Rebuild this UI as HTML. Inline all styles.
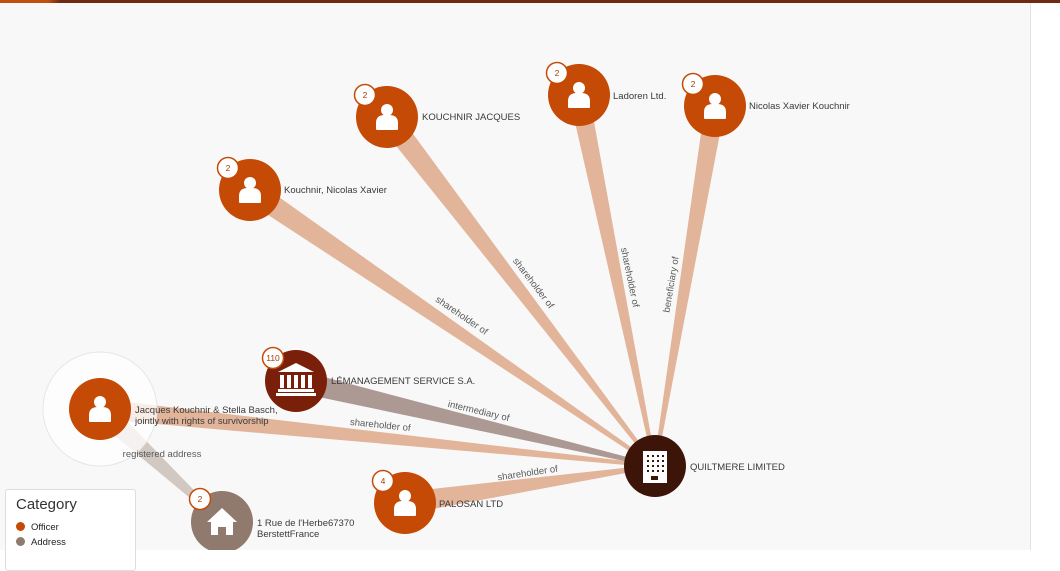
<!DOCTYPE html>
<html><head><meta charset="utf-8">
<style>
html,body{margin:0;padding:0;width:1060px;height:550px;overflow:hidden;background:#fff;font-family:"Liberation Sans",sans-serif;}
#bar{position:absolute;left:0;top:0;width:1060px;height:3px;background:linear-gradient(90deg,#c0500e 0,#c0500e 48px,#6e2a12 60px,#6e2a12 100%);}
#area{position:absolute;left:0;top:3px;width:1030px;height:547px;background:#f8f8f8;border-right:1px solid #e2e2e2;}
svg{position:absolute;left:0;top:0;}
.lbl{font-size:9.5px;fill:#3a3a3a;}
.el{font-size:9.5px;fill:#5a5a5a;}
.bd{font-size:8.5px;fill:#a33c08;}
#legend{position:absolute;left:5px;top:489px;width:129px;height:80px;background:#fff;border:1px solid #ddd;border-radius:3px;}
#legend .t{position:absolute;left:10px;top:6px;font-size:15px;color:#333;}
#legend .r{position:absolute;left:10px;font-size:9.5px;color:#222;}
#legend .d{display:inline-block;width:9px;height:9px;border-radius:50%;margin-right:6px;vertical-align:-1px;}
</style></head><body>
<div id="bar"></div>
<div id="area"></div>
<svg id="s" width="1060" height="550" xmlns="http://www.w3.org/2000/svg">
<g id="edges"></g>
<circle cx="100" cy="409" r="57" fill="#fff" fill-opacity="0.75" stroke="#e6e6e6" stroke-width="1"/>
<g id="nodes"></g>
<text class="el" transform="translate(460,318) rotate(34.3)" text-anchor="middle">shareholder of</text>
<text class="el" transform="translate(531,285) rotate(52.5)" text-anchor="middle">shareholder of</text>
<text class="el" transform="translate(627,278) rotate(78.4)" text-anchor="middle">shareholder of</text>
<text class="el" transform="translate(674,285) rotate(-80.5)" text-anchor="middle">beneficiary of</text>
<text class="el" transform="translate(478,414) rotate(13.3)" text-anchor="middle">intermediary of</text>
<text class="el" transform="translate(380,428) rotate(5.9)" text-anchor="middle">shareholder of</text>
<text class="el" transform="translate(528,476) rotate(-8.4)" text-anchor="middle">shareholder of</text>
<text class="el" x="162" y="457" text-anchor="middle">registered address</text>
</svg>
<div id="legend"><div class="t">Category</div>
<div class="r" style="top:32px"><span class="d" style="background:#c44a05"></span>Officer</div>
<div class="r" style="top:47px"><span class="d" style="background:#8f7a6d"></span>Address</div></div>
<script>
var NS="http://www.w3.org/2000/svg";
function el(p,t,a,txt){var e=document.createElementNS(NS,t);for(var k in a)e.setAttribute(k,a[k]);if(txt!=null)e.textContent=txt;p.appendChild(e);return e;}
var E=document.getElementById('edges'),N=document.getElementById('nodes');
function edge(x1,y1,x2,y2,w1,w2,c,op){var dx=x2-x1,dy=y2-y1,l=Math.hypot(dx,dy),nx=-dy/l,ny=dx/l;
var p=[[x1+nx*w1/2,y1+ny*w1/2],[x2+nx*w2/2,y2+ny*w2/2],[x2-nx*w2/2,y2-ny*w2/2],[x1-nx*w1/2,y1-ny*w1/2]];
el(E,'polygon',{points:p.map(function(q){return q.join(',')}).join(' '),fill:c,'fill-opacity':op||1});}
var C=[655,466],SH='#e2b49a';
edge(250,190,C[0],C[1],22,3,SH);
edge(387,117,C[0],C[1],22,3,SH);
edge(579,95,C[0],C[1],20,3,SH);
edge(715,106,C[0],C[1],20,3,SH);
edge(296,381,C[0],C[1],22,3,'#ad9994');
edge(100,409,C[0],C[1],20,3,SH);
edge(405,503,C[0],C[1],22,3,SH);
edge(100,409,222,522,22,4,'#cbbfb9',0.85);
function person(x,y){el(N,'circle',{cx:x,cy:y-7,r:6,fill:'#fff'});el(N,'path',{d:'M'+(x-11)+','+(y+12)+' v-6 q0,-8 9,-8 h4 q9,0 9,8 v6 q0,1 -1,1 h-20 q-1,0 -1,-1 z',fill:'#fff'});}
function badge(x,y,t){el(N,'circle',{cx:x,cy:y,r:10.5,fill:'#fff',stroke:'#c44a05','stroke-width':1.5});el(N,'text',{x:x,y:y+3,'text-anchor':'middle','class':'bd'},t);}
function node(x,y,col,b,lbl,lx,ly,icon){el(N,'circle',{cx:x,cy:y,r:31,fill:col});
if(icon==='p')person(x,y);
if(b)badge(x-22,y-22,b);
if(lbl){var ls=lbl.split('|');ls.forEach(function(s,i){el(N,'text',{x:lx,y:ly+i*11,'class':'lbl'},s);});}}
node(387,117,'#c44a05','2','KOUCHNIR JACQUES',422,120,'p');
node(579,95,'#c44a05','2','Ladoren Ltd.',613,99,'p');
node(715,106,'#c44a05','2','Nicolas Xavier Kouchnir',749,109,'p');
node(250,190,'#c44a05','2','Kouchnir, Nicolas Xavier',284,193,'p');
node(100,409,'#c44a05',null,'Jacques Kouchnir & Stella Basch,|jointly with rights of survivorship',135,413,'p');
node(405,503,'#c44a05','4','PALOSAN LTD',439,507,'p');
node(296,381,'#7a1f0a',null,'LÉMANAGEMENT SERVICE S.A.',331,384,'');
el(N,'path',{d:'M278,372 L296,363 L314,372 Z',fill:'#fff'});
[282,289,296,303,310].forEach(function(x){el(N,'rect',{x:x-2,y:375,width:4,height:13,fill:'#fff'});});
el(N,'rect',{x:278,y:389,width:36,height:3,fill:'#fff'});
el(N,'rect',{x:276,y:393,width:40,height:3,fill:'#fff'});
badge(273,358,'110');
node(222,522,'#8f7a6d',null,'1 Rue de l\'Herbe67370|BerstettFrance',257,526,'');
el(N,'path',{d:'M207,522 L222,508 L237,522 L233,522 L233,535 L226,535 L226,527 L218,527 L218,535 L211,535 L211,522 Z',fill:'#fff'});
badge(200,499,'2');
node(655,466,'#3d1508',null,'QUILTMERE LIMITED',690,470,'');
el(N,'rect',{x:643,y:451,width:24,height:32,fill:'#fff'});
for(var r=0;r<4;r++)for(var c=0;c<4;c++)el(N,'rect',{x:647+c*5,y:455+r*5,width:2,height:2,fill:'#3d1508'});
el(N,'rect',{x:651,y:476,width:7,height:4,fill:'#3d1508'});
</script>
</body></html>
